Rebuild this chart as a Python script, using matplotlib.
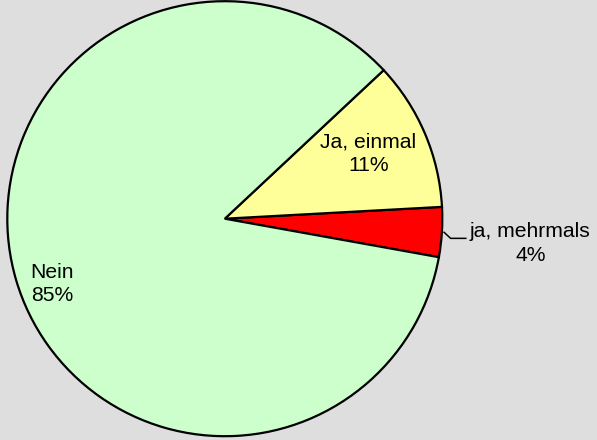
import numpy as np
import matplotlib
matplotlib.use("Agg")
import matplotlib.pyplot as plt

# shares (counter-clockwise from the lower right)
labels = ["ja, mehrmals", "Ja, einmal", "Nein"]
values = [3.7, 11.1, 85.2]
pct_text = ["4%", "11%", "85%"]
colors = ["#FF0000", "#FFFF99", "#CCFFCC"]

BG = "#DEDEDE"
plt.rcParams["font.family"] = ["Liberation Sans", "DejaVu Sans"]

W, H = 597, 440
fig = plt.figure(figsize=(W / 100, H / 100), dpi=100, facecolor=BG)
cx, cy, r = 224.8, H - 218.7, 217.5
ax = fig.add_axes([(cx - r) / W, (cy - r) / H, 2 * r / W, 2 * r / H])
ax.set_facecolor(BG)

wedges, _ = ax.pie(values, colors=colors, startangle=-10.2, counterclock=True,
                   radius=1.0,
                   wedgeprops=dict(edgecolor="black", linewidth=1.6))
ax.set_xlim(-1.0, 1.0)
ax.set_ylim(-1.0, 1.0)
ax.set_aspect("equal")
ax.axis("off")
for w in wedges:
    w.set_clip_on(False)

fs = 15.2
ls = 1.32
# inner labels
ax.text(0.66, 0.30, f"{labels[1]}\n{pct_text[1]}", ha="center", va="center",
        fontsize=fs, linespacing=ls)
ax.text(-0.795, -0.30, f"{labels[2]}\n{pct_text[2]}", ha="center", va="center",
        fontsize=fs, linespacing=ls)

# outside label for the small slice with a leader line
w = wedges[0]
mid = np.deg2rad((w.theta1 + w.theta2) / 2)
x0, y0 = np.cos(mid) * 1.01, np.sin(mid) * 1.01
ax.plot([x0, x0 + 0.03, x0 + 0.1], [y0, y0 - 0.028, y0 - 0.028],
        color="black", lw=1.1, clip_on=False)
ax.text(1.405, -0.115, f"{labels[0]}\n{pct_text[0]}", ha="center", va="center",
        fontsize=fs, linespacing=ls, clip_on=False)

fig.savefig("out.png", dpi=100, facecolor=BG)
